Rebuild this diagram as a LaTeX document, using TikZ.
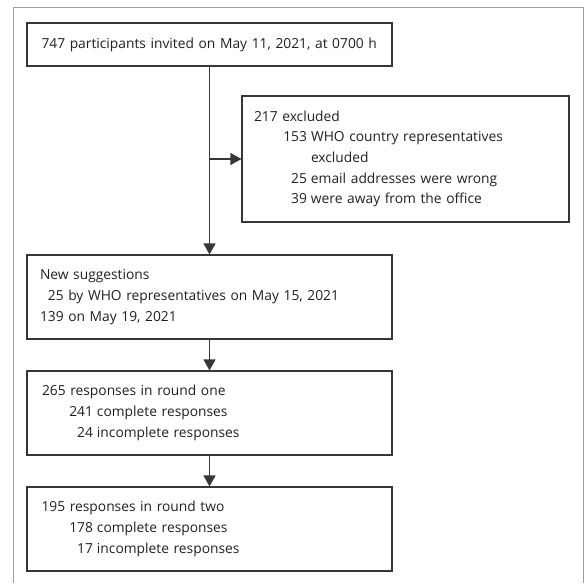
\documentclass[tikz,border=0pt]{standalone}
\usepackage{fontspec}
\setmainfont{Open Sans}
\usetikzlibrary{arrows.meta}
\definecolor{framegreen}{RGB}{112,182,152}
\definecolor{boxgray}{RGB}{55,55,55}
\definecolor{textgray}{RGB}{35,31,32}
\newlength{\numcol}
\setlength{\numcol}{53pt}
\newcommand{\subline}[2]{\makebox[\numcol][r]{#1}\hspace{4pt}#2}
\tikzset{
	flowbox/.style={draw=boxgray, line width=1.1pt, rectangle, inner xsep=13pt,
		minimum width=365pt, text width=339pt, align=left, text=textgray,
		font=\fontsize{13.8}{20.7}\selectfont},
	sidebox/.style={flowbox, inner xsep=12pt, minimum width=327pt, text width=303pt},
	flowline/.style={draw=boxgray, line width=1.1pt},
}
\begin{document}
\begin{tikzpicture}[>={Triangle[length=11pt,width=12pt]}, x=1pt, y=-1pt]
		\useasboundingbox (0,0) rectangle (585,583);
		% frame
		\draw[framegreen, line width=1pt] (13,583) -- (13,8) -- (583.5,8) -- (583.5,583);
		% boxes
		\node[flowbox, minimum height=43pt] (invited) at (209.5,44.5)
			{\hspace*{1.5pt}747 participants invited on May 11, 2021, at 0700 h};
		\node[sidebox, minimum height=126pt] (excluded) at (405.5,159)
			{217 excluded\\
			\subline{153}{WHO country representatives}\\
			\subline{}{excluded}\\
			\subline{25}{email addresses were wrong}\\
			\subline{39}{were away from the office}};
		\node[flowbox, minimum height=84pt] (suggest) at (209.5,297)
			{New suggestions\\
			\phantom{1}25 by WHO representatives on May 15, 2021\\
			139 on May 19, 2021};
		\node[flowbox, minimum height=84pt] (roundone) at (209.5,413)
			{\hspace*{2pt}265 responses in round one\\
			\subline{241}{complete responses}\\
			\subline{24}{incomplete responses}};
		\node[flowbox, minimum height=84pt] (roundtwo) at (209.5,529)
			{\hspace*{1.5pt}195 responses in round two\\
			\subline{178}{complete responses}\\
			\subline{17}{incomplete responses}};
		% arrows
		\draw[flowline, ->] (invited) -- (suggest);
		\draw[flowline, ->] (excluded.west -| invited.south) -- (excluded);
		\draw[flowline, ->] (suggest) -- (roundone);
		\draw[flowline, ->] (roundone) -- (roundtwo);
\end{tikzpicture}
\end{document}
